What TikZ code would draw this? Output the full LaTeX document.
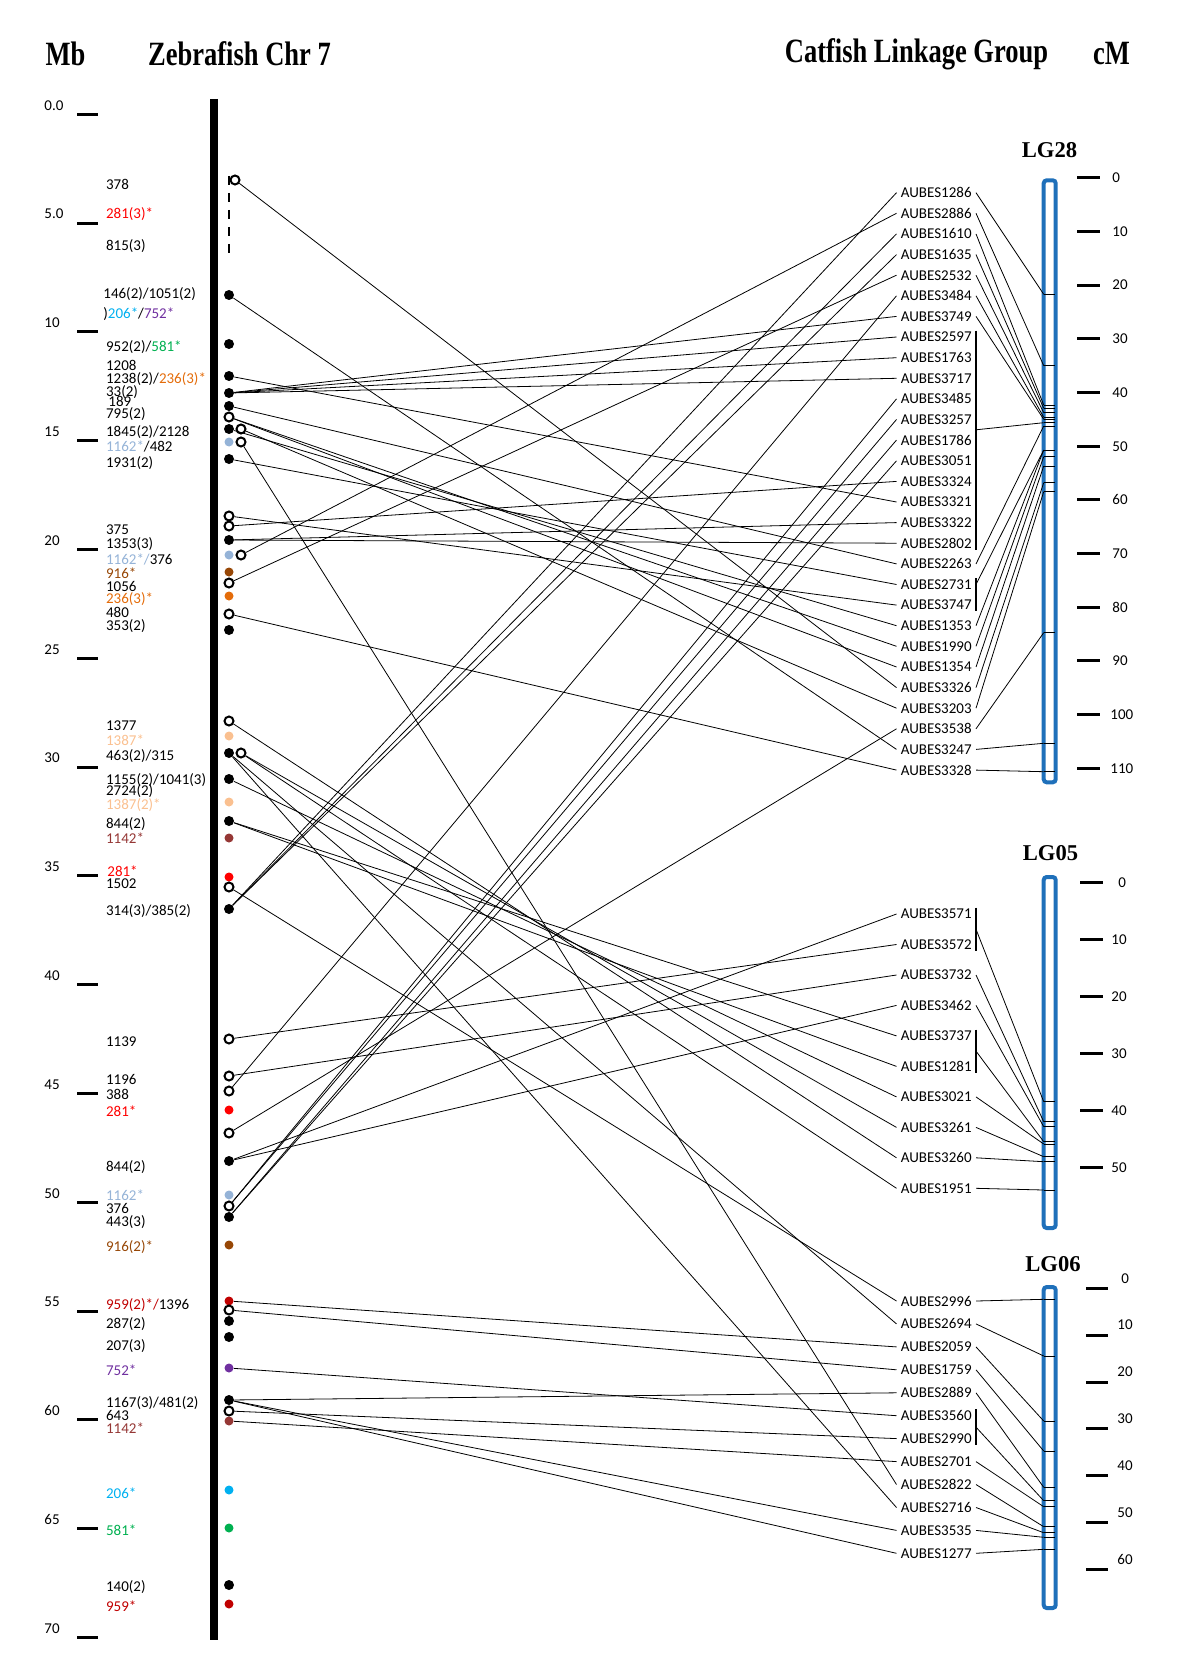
\documentclass[tikz,border=0pt]{standalone}
\usepackage{fontspec}
\setmainfont{Carlito}
\newfontfamily\headfont{Liberation Serif}
\usetikzlibrary{calc}
\definecolor{cRed}{RGB}{255,0,0}
\definecolor{cDkRed}{RGB}{192,0,0}
\definecolor{cBrick}{RGB}{149,55,53}
\definecolor{cSky}{RGB}{0,176,240}
\definecolor{cPurple}{RGB}{112,48,160}
\definecolor{cGreen}{RGB}{0,176,80}
\definecolor{cOrange}{RGB}{228,108,10}
\definecolor{cBrown}{RGB}{151,71,6}
\definecolor{cLtBlue}{RGB}{149,179,215}
\definecolor{cPeach}{RGB}{250,192,144}
\definecolor{lgblue}{RGB}{31,112,186}

\begin{document}
\begin{tikzpicture}[x=0.5pt,y=-0.5pt,
  num/.style={font=\fontsize{7.5}{9}\selectfont,inner sep=0pt,anchor=west},
  est/.style={font=\fontsize{7.5}{9}\selectfont,inner xsep=2pt,inner ysep=0.5pt,anchor=east},
  head/.style={font=\headfont\bfseries\fontsize{17}{20}\selectfont,xscale=0.78,inner sep=0pt},
  lghead/.style={font=\headfont\bfseries\fontsize{11.3}{13}\selectfont,inner sep=0pt},
  axtick/.style={line width=1.5pt},
  fdot/.style={circle,fill=black,minimum size=5pt,inner sep=0pt},
  odot/.style={circle,draw=black,fill=white,line width=1pt,minimum size=4.5pt,inner sep=0pt},
  cdot/.style={circle,fill=#1,minimum size=4.5pt,inner sep=0pt},
  conn/.style={line width=0.4pt},
  lgbar/.style={draw=lgblue,line width=2pt,rounded corners=1.5pt},
  lgmark/.style={line width=0.35pt},
  brk/.style={line width=1pt}]
\useasboundingbox (0,0) rectangle (1200,1674);

% headers
\node[head] (hmb) at (65.5,54) {Mb};
\node[head] (hzf) at (239.5,54) {Zebrafish Chr 7};
\node[head] (hcf) at (916.5,54) {Catfish Linkage Group};
\node[head] (hcm) at (1111.5,54) {cM};

% Mb axis
\draw[axtick] (77,114.3) -- (98,114.3);   \node[num] at (44,105.3) {0.0};
\draw[axtick] (77,223.1) -- (98,223.1);   \node[num] at (44,214.1) {5.0};
\draw[axtick] (77,331.9) -- (98,331.9);   \node[num] at (44,322.9) {10};
\draw[axtick] (77,440.7) -- (98,440.7);   \node[num] at (44,431.7) {15};
\draw[axtick] (77,549.5) -- (98,549.5);   \node[num] at (44,540.5) {20};
\draw[axtick] (77,658.3) -- (98,658.3);   \node[num] at (44,649.3) {25};
\draw[axtick] (77,767.1) -- (98,767.1);   \node[num] at (44,758.1) {30};
\draw[axtick] (77,875.9) -- (98,875.9);   \node[num] at (44,866.9) {35};
\draw[axtick] (77,984.7) -- (98,984.7);   \node[num] at (44,975.7) {40};
\draw[axtick] (77,1093.5) -- (98,1093.5); \node[num] at (44,1084.5) {45};
\draw[axtick] (77,1202.3) -- (98,1202.3); \node[num] at (44,1193.3) {50};
\draw[axtick] (77,1311.1) -- (98,1311.1); \node[num] at (44,1302.1) {55};
\draw[axtick] (77,1419.9) -- (98,1419.9); \node[num] at (44,1410.9) {60};
\draw[axtick] (77,1528.7) -- (98,1528.7); \node[num] at (44,1519.7) {65};
\draw[axtick] (77,1637.5) -- (98,1637.5); \node[num] at (44,1628.5) {70};

% zebrafish gene labels
\node[num] (t184) at (105.7,184.3) {378};
\node[num] (t214) at (105.7,214.3) {\color{cRed}281(3)*};
\node[num] (t246) at (105.7,245.7) {815(3)};
\node[num] (t294) at (103,294) {146(2)/1051(2)};
\node[num] (t314) at (103,314.3) {)\textcolor{cSky}{206*}/\textcolor{cPurple}{752*}};
\node[num] (t347) at (105.7,346.7) {952(2)/\textcolor{cGreen}{581*}};
\node[num] (t365) at (105.7,365) {1208};
\node[num] (t379) at (105.7,379.3) {1238(2)/\textcolor{cOrange}{236(3)*}};
\node[num] (t392) at (105.7,392.3) {33(2)};
\node[num] (t402) at (108,401.7) {189};
\node[num] (t414) at (105.7,414.3) {795(2)};
\node[num] (t432) at (105.7,431.7) {1845(2)/2128};
\node[num] (t446) at (105.7,446) {\textcolor{cLtBlue}{1162*}/482};
\node[num] (t463) at (105.7,462.7) {1931(2)};
\node[num] (t529) at (105.7,529.3) {375};
\node[num] (t544) at (105.7,544.3) {1353(3)};
\node[num] (t559) at (105.7,559) {\textcolor{cLtBlue}{1162*/}376};
\node[num] (t573) at (105.7,573.3) {\textcolor{cBrown}{916*}};
\node[num] (t587) at (105.7,586.7) {1056};
\node[num] (t599) at (105.7,599.3) {\textcolor{cOrange}{236(3)*}};
\node[num] (t612) at (105.7,612.3) {480};
\node[num] (t626) at (105.7,625.7) {353(2)};
\node[num] (t726) at (105.7,725.7) {1377};
\node[num] (t740) at (105.7,740) {\textcolor{cPeach}{1387*}};
\node[num] (t756) at (105.7,756) {463(2)/315};
\node[num] (t780) at (105.7,780) {1155(2)/1041(3)};
\node[num] (t791) at (105.7,790.7) {2724(2)};
\node[num] (t805) at (105.7,805) {\textcolor{cPeach}{1387(2)*}};
\node[num] (t824) at (105.7,824) {844(2)};
\node[num] (t838) at (105.7,838.3) {\textcolor{cBrick}{1142*}};
\node[num] (t872) at (107,871.7) {\textcolor{cRed}{281*}};
\node[num] (t883) at (105.7,883.3) {1502};
\node[num] (t911) at (105.7,911) {314(3)/385(2)};
\node[num] (t1042) at (105.7,1041.7) {1139};
\node[num] (t1079) at (105.7,1079.3) {1196};
\node[num] (t1094) at (105.7,1094) {388};
\node[num] (t1112) at (105.7,1111.7) {\textcolor{cRed}{281*}};
\node[num] (t1167) at (105.7,1166.7) {844(2)};
\node[num] (t1196) at (105.7,1195.7) {\textcolor{cLtBlue}{1162*}};
\node[num] (t1208) at (105.7,1208.3) {376};
\node[num] (t1222) at (105.7,1221.7) {443(3)};
\node[num] (t1247) at (105.7,1246.7) {\textcolor{cBrown}{916(2)*}};
\node[num] (t1305) at (105.7,1305) {\textcolor{cDkRed}{959(2)*/}1396};
\node[num] (t1324) at (105.7,1324.3) {287(2)};
\node[num] (t1346) at (105.7,1345.7) {207(3)};
\node[num] (t1371) at (105.7,1370.7) {\textcolor{cPurple}{752*}};
\node[num] (t1403) at (105.7,1403.3) {1167(3)/481(2)};
\node[num] (t1416) at (105.7,1415.7) {643};
\node[num] (t1428) at (105.7,1428.3) {\textcolor{cBrick}{1142*}};
\node[num] (t1493) at (105.7,1493.3) {\textcolor{cSky}{206*}};
\node[num] (t1531) at (105.7,1530.7) {\textcolor{cGreen}{581*}};
\node[num] (t1587) at (105.7,1587.3) {140(2)};
\node[num] (t1607) at (105.7,1606.7) {\textcolor{cDkRed}{959*}};

% chromosome
\draw[line width=4pt] (214,99) -- (214,1640);
\draw[line width=1.3pt,dash pattern=on 4.5pt off 4pt] (229,176) -- (229,256);

% zebrafish loci
\node[odot] (d180) at (235,180) {};
\node[fdot] (d295) at (229,295) {};
\node[fdot] (d344) at (229,344) {};
\node[fdot] (d376) at (229,376) {};
\node[fdot] (d393) at (229,393) {};
\node[fdot] (d406) at (229,406) {};
\node[odot] (d417) at (229,417) {};
\node[fdot] (d429) at (229,429) {};
\node[odot] (e429) at (241,429) {};
\node[cdot=cLtBlue] (d442) at (229,442) {};
\node[odot] (e442) at (241,442) {};
\node[fdot] (d459) at (229,459) {};
\node[odot] (d516) at (229,516) {};
\node[odot] (d526) at (229,526) {};
\node[fdot] (d540) at (229,540) {};
\node[cdot=cLtBlue] (d555) at (229,555) {};
\node[odot] (e555) at (241,555) {};
\node[cdot=cBrown] (d572) at (229,572) {};
\node[odot] (d583) at (229,583) {};
\node[cdot=cOrange] (d596) at (229,596) {};
\node[odot] (d614) at (229,614) {};
\node[fdot] (d630) at (229,630) {};
\node[odot] (d721) at (229,721) {};
\node[cdot=cPeach] (d736) at (229,736) {};
\node[fdot] (d753) at (229,753) {};
\node[odot] (e753) at (241,753) {};
\node[fdot] (d779) at (229,779) {};
\node[cdot=cPeach] (d802) at (229,802) {};
\node[fdot] (d821) at (229,821) {};
\node[cdot=cBrick] (d838) at (229,838) {};
\node[cdot=cRed] (d877) at (229,877) {};
\node[odot] (d887) at (229,887) {};
\node[fdot] (d909) at (229,909) {};
\node[odot] (d1039) at (229,1039) {};
\node[odot] (d1076) at (229,1076) {};
\node[odot] (d1091) at (229,1091) {};
\node[cdot=cRed] (d1110) at (229,1110) {};
\node[odot] (d1133) at (229,1133) {};
\node[fdot] (d1161) at (229,1161) {};
\node[cdot=cLtBlue] (d1195) at (229,1195) {};
\node[odot] (d1206) at (229,1206) {};
\node[fdot] (d1217) at (229,1217) {};
\node[cdot=cBrown] (d1245) at (229,1245) {};
\node[cdot=cDkRed] (d1301) at (229,1301) {};
\node[odot] (d1310) at (229,1310) {};
\node[fdot] (d1321) at (229,1321) {};
\node[fdot] (d1337) at (229,1337) {};
\node[cdot=cPurple] (d1368) at (229,1368) {};
\node[fdot] (d1400) at (229,1400) {};
\node[odot] (d1411) at (229,1411) {};
\node[cdot=cBrick] (d1421) at (229,1421) {};
\node[cdot=cSky] (d1490) at (229,1490) {};
\node[cdot=cGreen] (d1528) at (229,1528) {};
\node[fdot] (d1585) at (229,1585) {};
\node[cdot=cDkRed] (d1604) at (229,1604) {};

% catfish markers, LG28
\node[est] (a1286) at (976,192.7) {AUBES1286};
\node[est] (a2886) at (976,213.3) {AUBES2886};
\node[est] (a1610) at (976,233.9) {AUBES1610};
\node[est] (a1635) at (976,254.6) {AUBES1635};
\node[est] (a2532) at (976,275.2) {AUBES2532};
\node[est] (a3484) at (976,295.8) {AUBES3484};
\node[est] (a3749) at (976,316.4) {AUBES3749};
\node[est] (a2597) at (976,337.0) {AUBES2597};
\node[est] (a1763) at (976,357.7) {AUBES1763};
\node[est] (a3717) at (976,378.3) {AUBES3717};
\node[est] (a3485) at (976,398.9) {AUBES3485};
\node[est] (a3257) at (976,419.5) {AUBES3257};
\node[est] (a1786) at (976,440.1) {AUBES1786};
\node[est] (a3051) at (976,460.8) {AUBES3051};
\node[est] (a3324) at (976,481.4) {AUBES3324};
\node[est] (a3321) at (976,502.0) {AUBES3321};
\node[est] (a3322) at (976,522.6) {AUBES3322};
\node[est] (a2802) at (976,543.2) {AUBES2802};
\node[est] (a2263) at (976,563.9) {AUBES2263};
\node[est] (a2731) at (976,584.5) {AUBES2731};
\node[est] (a3747) at (976,605.1) {AUBES3747};
\node[est] (a1353) at (976,625.7) {AUBES1353};
\node[est] (a1990) at (976,646.3) {AUBES1990};
\node[est] (a1354) at (976,667.0) {AUBES1354};
\node[est] (a3326) at (976,687.6) {AUBES3326};
\node[est] (a3203) at (976,708.2) {AUBES3203};
\node[est] (a3538) at (976,728.8) {AUBES3538};
\node[est] (a3247) at (976,749.4) {AUBES3247};
\node[est] (a3328) at (976,770.1) {AUBES3328};
% LG05
\node[est] (a3571) at (976,914.0) {AUBES3571};
\node[est] (a3572) at (976,944.5) {AUBES3572};
\node[est] (a3732) at (976,975.0) {AUBES3732};
\node[est] (a3462) at (976,1005.4) {AUBES3462};
\node[est] (a3737) at (976,1035.9) {AUBES3737};
\node[est] (a1281) at (976,1066.4) {AUBES1281};
\node[est] (a3021) at (976,1096.9) {AUBES3021};
\node[est] (a3261) at (976,1127.4) {AUBES3261};
\node[est] (a3260) at (976,1157.8) {AUBES3260};
\node[est] (a1951) at (976,1188.3) {AUBES1951};
% LG06
\node[est] (a2996) at (976,1301.0) {AUBES2996};
\node[est] (a2694) at (976,1323.9) {AUBES2694};
\node[est] (a2059) at (976,1346.9) {AUBES2059};
\node[est] (a1759) at (976,1369.8) {AUBES1759};
\node[est] (a2889) at (976,1392.8) {AUBES2889};
\node[est] (a3560) at (976,1415.7) {AUBES3560};
\node[est] (a2990) at (976,1438.6) {AUBES2990};
\node[est] (a2701) at (976,1461.6) {AUBES2701};
\node[est] (a2822) at (976,1484.5) {AUBES2822};
\node[est] (a2716) at (976,1507.5) {AUBES2716};
\node[est] (a3535) at (976,1530.4) {AUBES3535};
\node[est] (a1277) at (976,1553.3) {AUBES1277};

% brackets
\draw[brk] (a2597.north east) -- (a2802.south east);
\draw[brk] (a2731.north east) -- (a3747.south east);
\draw[brk] (a3571.north east) -- (a3572.south east);
\draw[brk] (a3737.north east) -- (a1281.south east);
\draw[brk] (a3560.north east) -- (a2990.south east);
\coordinate (b1) at ($(a3257.east)!0.5!(a1786.east)$);
\coordinate (b2) at (a2731.east);
\coordinate (b3) at ($(a3571.east)!0.5!(a3572.east)$);
\coordinate (b4) at ($(a3737.east)!0.5!(a1281.east)$);
\coordinate (b5) at ($(a3560.east)!0.5!(a2990.east)$);

% linkage group bars
\node[lghead] (lg28) at (1049.5,150) {LG28};
\node[lghead] (lg05) at (1050.5,853) {LG05};
\node[lghead] (lg06) at (1053,1264) {LG06};
\draw[lgbar] (1043.7,180.3) rectangle (1055.7,782.3);
\draw[lgbar] (1043.7,877) rectangle (1055.7,1228);
\draw[lgbar] (1043.7,1287) rectangle (1055.7,1608);

% cM scales
\draw[axtick] (1077,177.7) -- (1100,177.7); \node[num] at (1112,177.7) {0};
\draw[axtick] (1077,231.4) -- (1100,231.4); \node[num] at (1112,231.4) {10};
\draw[axtick] (1077,285.1) -- (1100,285.1); \node[num] at (1112,285.1) {20};
\draw[axtick] (1077,338.8) -- (1100,338.8); \node[num] at (1112,338.8) {30};
\draw[axtick] (1077,392.5) -- (1100,392.5); \node[num] at (1112,392.5) {40};
\draw[axtick] (1077,446.2) -- (1100,446.2); \node[num] at (1112,446.2) {50};
\draw[axtick] (1077,499.8) -- (1100,499.8); \node[num] at (1112,499.8) {60};
\draw[axtick] (1077,553.5) -- (1100,553.5); \node[num] at (1112,553.5) {70};
\draw[axtick] (1077,607.2) -- (1100,607.2); \node[num] at (1112,607.2) {80};
\draw[axtick] (1077,660.9) -- (1100,660.9); \node[num] at (1112,660.9) {90};
\draw[axtick] (1077,714.6) -- (1100,714.6); \node[num] at (1110,714.6) {100};
\draw[axtick] (1077,768.3) -- (1100,768.3); \node[num] at (1110,768.3) {110};
\draw[axtick] (1080,882.7) -- (1103,882.7); \node[num] at (1118,882.7) {0};
\draw[axtick] (1080,939.7) -- (1103,939.7); \node[num] at (1111,939.7) {10};
\draw[axtick] (1080,996.7) -- (1103,996.7); \node[num] at (1111,996.7) {20};
\draw[axtick] (1080,1053.7) -- (1103,1053.7); \node[num] at (1111,1053.7) {30};
\draw[axtick] (1080,1110.7) -- (1103,1110.7); \node[num] at (1111,1110.7) {40};
\draw[axtick] (1080,1167.7) -- (1103,1167.7); \node[num] at (1111,1167.7) {50};
\draw[axtick] (1086,1288.3) -- (1108,1288.3); \node[num] at (1121,1278.3) {0};
\draw[axtick] (1086,1335.1) -- (1108,1335.1); \node[num] at (1117,1325.1) {10};
\draw[axtick] (1086,1382.0) -- (1108,1382.0); \node[num] at (1117,1372.0) {20};
\draw[axtick] (1086,1428.8) -- (1108,1428.8); \node[num] at (1117,1418.8) {30};
\draw[axtick] (1086,1475.6) -- (1108,1475.6); \node[num] at (1117,1465.6) {40};
\draw[axtick] (1086,1522.5) -- (1108,1522.5); \node[num] at (1117,1512.5) {50};
\draw[axtick] (1086,1569.3) -- (1108,1569.3); \node[num] at (1117,1559.3) {60};

% map positions on the bars
\coordinate (m1286) at (1043.7,294.3); \coordinate (m2886) at (1043.7,365.7);
\coordinate (m1610) at (1043.7,405.0); \coordinate (m1635) at (1043.7,408.3);
\coordinate (m2532) at (1043.7,412.7); \coordinate (m3484) at (1043.7,417.3);
\coordinate (m3749) at (1043.7,419.3); \coordinate (mb1) at (1043.7,422.7);
\coordinate (m2263) at (1043.7,426.0); \coordinate (mb2) at (1043.7,450.0);
\coordinate (m1353) at (1043.7,450.0); \coordinate (m1990) at (1043.7,456.7);
\coordinate (m1354) at (1043.7,466.0); \coordinate (m3326) at (1043.7,482.7);
\coordinate (m3203) at (1043.7,491.7); \coordinate (m3538) at (1043.7,632.7);
\coordinate (m3247) at (1043.7,743.3); \coordinate (m3328) at (1043.7,771.7);
\coordinate (mb3) at (1043.7,1101.7); \coordinate (m3732) at (1043.7,1121.7);
\coordinate (m3462) at (1043.7,1126.7); \coordinate (mb4) at (1043.7,1141.7);
\coordinate (m3021) at (1043.7,1144.0); \coordinate (m3261) at (1043.7,1156.7);
\coordinate (m3260) at (1043.7,1161.7); \coordinate (m1951) at (1043.7,1190.0);
\coordinate (m2996) at (1043.7,1299.3); \coordinate (m2694) at (1043.7,1356.0);
\coordinate (m2059) at (1043.7,1421.0); \coordinate (m1759) at (1043.7,1451.0);
\coordinate (m2889) at (1043.7,1487.3); \coordinate (mb5) at (1043.7,1500.7);
\coordinate (m2701) at (1043.7,1506.7); \coordinate (m2822) at (1043.7,1526.7);
\coordinate (m2716) at (1043.7,1532.7); \coordinate (m3535) at (1043.7,1537.3);
\coordinate (m1277) at (1043.7,1549.3);

% bar ticks and links to markers
\draw[lgmark] (m1286) -- ++(11,0); \draw[conn] (a1286.east) -- (m1286);
\draw[lgmark] (m2886) -- ++(11,0); \draw[conn] (a2886.east) -- (m2886);
\draw[lgmark] (m1610) -- ++(11,0); \draw[conn] (a1610.east) -- (m1610);
\draw[lgmark] (m1635) -- ++(11,0); \draw[conn] (a1635.east) -- (m1635);
\draw[lgmark] (m2532) -- ++(11,0); \draw[conn] (a2532.east) -- (m2532);
\draw[lgmark] (m3484) -- ++(11,0); \draw[conn] (a3484.east) -- (m3484);
\draw[lgmark] (m3749) -- ++(11,0); \draw[conn] (a3749.east) -- (m3749);
\draw[lgmark] (mb1) -- ++(11,0);   \draw[conn] (b1) -- (mb1);
\draw[lgmark] (m2263) -- ++(11,0); \draw[conn] (a2263.east) -- (m2263);
\draw[lgmark] (mb2) -- ++(11,0);   \draw[conn] (b2) -- (mb2);
\draw[lgmark] (m1353) -- ++(11,0); \draw[conn] (a1353.east) -- (m1353);
\draw[lgmark] (m1990) -- ++(11,0); \draw[conn] (a1990.east) -- (m1990);
\draw[lgmark] (m1354) -- ++(11,0); \draw[conn] (a1354.east) -- (m1354);
\draw[lgmark] (m3326) -- ++(11,0); \draw[conn] (a3326.east) -- (m3326);
\draw[lgmark] (m3203) -- ++(11,0); \draw[conn] (a3203.east) -- (m3203);
\draw[lgmark] (m3538) -- ++(11,0); \draw[conn] (a3538.east) -- (m3538);
\draw[lgmark] (m3247) -- ++(11,0); \draw[conn] (a3247.east) -- (m3247);
\draw[lgmark] (m3328) -- ++(11,0); \draw[conn] (a3328.east) -- (m3328);
\draw[lgmark] (mb3) -- ++(11,0);   \draw[conn] (b3) -- (mb3);
\draw[lgmark] (m3732) -- ++(11,0); \draw[conn] (a3732.east) -- (m3732);
\draw[lgmark] (m3462) -- ++(11,0); \draw[conn] (a3462.east) -- (m3462);
\draw[lgmark] (mb4) -- ++(11,0);   \draw[conn] (b4) -- (mb4);
\draw[lgmark] (m3021) -- ++(11,0); \draw[conn] (a3021.east) -- (m3021);
\draw[lgmark] (m3261) -- ++(11,0); \draw[conn] (a3261.east) -- (m3261);
\draw[lgmark] (m3260) -- ++(11,0); \draw[conn] (a3260.east) -- (m3260);
\draw[lgmark] (m1951) -- ++(11,0); \draw[conn] (a1951.east) -- (m1951);
\draw[lgmark] (m2996) -- ++(11,0); \draw[conn] (a2996.east) -- (m2996);
\draw[lgmark] (m2694) -- ++(11,0); \draw[conn] (a2694.east) -- (m2694);
\draw[lgmark] (m2059) -- ++(11,0); \draw[conn] (a2059.east) -- (m2059);
\draw[lgmark] (m1759) -- ++(11,0); \draw[conn] (a1759.east) -- (m1759);
\draw[lgmark] (m2889) -- ++(11,0); \draw[conn] (a2889.east) -- (m2889);
\draw[lgmark] (mb5) -- ++(11,0);   \draw[conn] (b5) -- (mb5);
\draw[lgmark] (m2701) -- ++(11,0); \draw[conn] (a2701.east) -- (m2701);
\draw[lgmark] (m2822) -- ++(11,0); \draw[conn] (a2822.east) -- (m2822);
\draw[lgmark] (m2716) -- ++(11,0); \draw[conn] (a2716.east) -- (m2716);
\draw[lgmark] (m3535) -- ++(11,0); \draw[conn] (a3535.east) -- (m3535);
\draw[lgmark] (m1277) -- ++(11,0); \draw[conn] (a1277.east) -- (m1277);

% zebrafish to catfish links
\draw[conn] (d180) -- (a3326.west);
\draw[conn] (d295) -- (a3247.west);
\draw[conn] (d376) -- (a3321.west);
\draw[conn] (d393) -- (a3749.west);
\draw[conn] (d393) -- (a2597.west);
\draw[conn] (d393) -- (a1763.west);
\draw[conn] (d393) -- (a3717.west);
\draw[conn] (d406) -- (a2263.west);
\draw[conn] (d417) -- (a1990.west);
\draw[conn] (d417) -- (a1354.west);
\draw[conn] (d429) -- (a1353.west);
\draw[conn] (e429) -- (a3203.west);
\draw[conn] (e442) -- (a2822.west);
\draw[conn] (d459) -- (a2731.west);
\draw[conn] (d516) -- (a3747.west);
\draw[conn] (d526) -- (a3324.west);
\draw[conn] (d540) -- (a3322.west);
\draw[conn] (d540) -- (a2802.west);
\draw[conn] (e555) -- (a2886.west);
\draw[conn] (d583) -- (a2532.west);
\draw[conn] (d614) -- (a3328.west);
\draw[conn] (d721) -- (a3260.west);
\draw[conn] (d753) -- (a2694.west);
\draw[conn] (d753) -- (a2716.west);
\draw[conn] (e753) -- (a3261.west);
\draw[conn] (e753) -- (a1951.west);
\draw[conn] (d779) -- (a3021.west);
\draw[conn] (d821) -- (a3737.west);
\draw[conn] (d821) -- (a1281.west);
\draw[conn] (d887) -- (a2996.west);
\draw[conn] (d909) -- (a1286.west);
\draw[conn] (d909) -- (a1610.west);
\draw[conn] (d909) -- (a1635.west);
\draw[conn] (d1039) -- (a3572.west);
\draw[conn] (d1076) -- (a3732.west);
\draw[conn] (d1091) -- (a3484.west);
\draw[conn] (d1133) -- (a3538.west);
\draw[conn] (d1161) -- (a3571.west);
\draw[conn] (d1161) -- (a3462.west);
\draw[conn] (d1206) -- (a3485.west);
\draw[conn] (d1206) -- (a3257.west);
\draw[conn] (d1217) -- (a1786.west);
\draw[conn] (d1217) -- (a3051.west);
\draw[conn] (d1301) -- (a2059.west);
\draw[conn] (d1310) -- (a1759.west);
\draw[conn] (d1368) -- (a3560.west);
\draw[conn] (d1400) -- (a2889.west);
\draw[conn] (d1400) -- (a3535.west);
\draw[conn] (d1400) -- (a1277.west);
\draw[conn] (d1411) -- (a2990.west);
\draw[conn] (d1421) -- (a2701.west);
\end{tikzpicture}
\end{document}
